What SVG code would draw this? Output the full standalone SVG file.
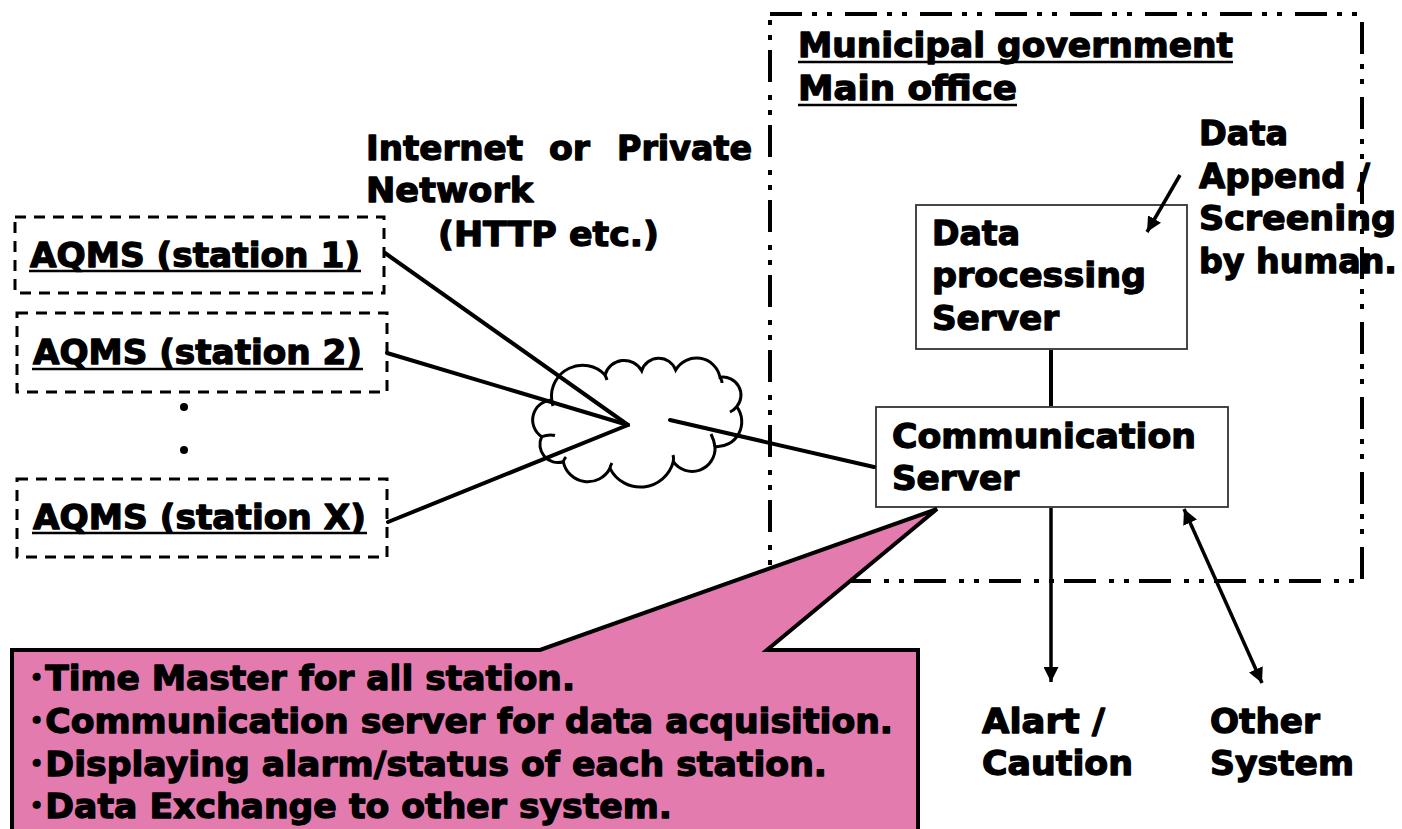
<svg xmlns="http://www.w3.org/2000/svg" width="1402" height="829" viewBox="0 0 1402 829">
<defs>
<style>
.t{font-family:"DejaVu Sans","Liberation Sans","Noto Sans CJK JP",sans-serif;font-weight:bold;font-size:34px;fill:#000;stroke:#000;stroke-width:1.3px;stroke-linejoin:round}
.ul{stroke:#000;stroke-width:2.5}
.st{fill:none;stroke:#000;stroke-width:3;stroke-dasharray:11 8}
.ln{stroke:#000;stroke-width:4;fill:none;stroke-linecap:round}
.ar{stroke:#000;stroke-width:3.5;fill:none}
.box{fill:#fff;stroke:#333;stroke-width:1.8}
</style>
<marker id="ah" markerUnits="userSpaceOnUse" markerWidth="15" markerHeight="15" viewBox="0 0 15 15" refX="15" refY="7.5" orient="auto-start-reverse">
<path d="M0,0 L15,7.5 L0,15 z" fill="#000"/>
</marker>
</defs>
<rect width="1402" height="829" fill="#fff"/>

<g id="main-office">
<rect x="770" y="14" width="592" height="567" fill="none" stroke="#000" stroke-width="4" stroke-dasharray="32 10 5 10 5 13"/>
<text class="t" x="798" y="57" textLength="435" lengthAdjust="spacingAndGlyphs">Municipal government</text>
<line class="ul" x1="798" y1="62" x2="1233" y2="62"/>
<text class="t" x="798" y="100" textLength="219" lengthAdjust="spacingAndGlyphs">Main office</text>
<line class="ul" x1="798" y1="105" x2="1017" y2="105"/>
</g>

<g id="station-1">
<rect class="st" x="15" y="217" width="369" height="76"/>
<text class="t" x="30" y="267" textLength="330" lengthAdjust="spacingAndGlyphs">AQMS (station 1)</text>
<line class="ul" x1="29" y1="271" x2="361" y2="271"/>
</g>
<g id="station-2">
<rect class="st" x="17" y="313" width="370" height="79"/>
<text class="t" x="33" y="364" textLength="329" lengthAdjust="spacingAndGlyphs">AQMS (station 2)</text>
<line class="ul" x1="32" y1="369" x2="363" y2="369"/>
</g>
<g id="station-dots">
<circle cx="184" cy="407" r="4" fill="#000"/>
<circle cx="184" cy="450" r="4" fill="#000"/>
</g>
<g id="station-x">
<rect class="st" x="17" y="479" width="370" height="78"/>
<text class="t" x="33" y="529" textLength="333" lengthAdjust="spacingAndGlyphs">AQMS (station X)</text>
<line class="ul" x1="32" y1="533" x2="367" y2="533"/>
</g>

<g id="network">
<path d="M551.7 400 A31 31 0 0 1 605 375 A20 20 0 0 1 641.7 370.7 A18 18 0 0 1 675.7 370 A24 24 0 0 1 720 377.3 A18 18 0 0 1 736.7 406.7 A25 25 0 0 1 715 446.7 A23 23 0 0 1 673.3 461.7 A34 34 0 0 1 610 468.3 A25 25 0 0 1 563.3 461.7 A18 18 0 0 1 541.7 436.7 A20 20 0 0 1 551.7 400 Z" fill="#fff" stroke="#000" stroke-width="3"/>
<path d="M541.7 436.7 Q549 434 555 435.5 M736.7 406.7 Q734 410 730 412 M715 446.7 Q714 440 711 434 M673.3 461.7 Q674 458 673 455 M610 468.3 Q610 466 612 463 M563.3 461.7 Q564 459 566 457 M551.7 400 Q552 403 553 406 M605 375 Q606 377 607 380 M720 377.3 Q722 380 722 383" fill="none" stroke="#000" stroke-width="3"/>
<text class="t" y="160"><tspan x="366" textLength="157" lengthAdjust="spacingAndGlyphs">Internet</tspan><tspan x="549" textLength="41" lengthAdjust="spacingAndGlyphs">or</tspan><tspan x="617" textLength="135" lengthAdjust="spacingAndGlyphs">Private</tspan></text>
<text class="t" x="366" y="202" textLength="167" lengthAdjust="spacingAndGlyphs">Network</text>
<text class="t" x="438" y="246" textLength="221" lengthAdjust="spacingAndGlyphs">(HTTP etc.)</text>
</g>

<g id="data-processing-server">
<rect class="box" x="916" y="205" width="271" height="144"/>
<text class="t" x="932" y="245" textLength="88" lengthAdjust="spacingAndGlyphs">Data</text>
<text class="t" x="932" y="287" textLength="214" lengthAdjust="spacingAndGlyphs">processing</text>
<text class="t" x="932" y="330" textLength="127" lengthAdjust="spacingAndGlyphs">Server</text>
</g>

<g id="communication-server">
<rect class="box" x="876" y="407" width="352" height="100"/>
<text class="t" x="892" y="448" textLength="304" lengthAdjust="spacingAndGlyphs">Communication</text>
<text class="t" x="892" y="490" textLength="127" lengthAdjust="spacingAndGlyphs">Server</text>
</g>

<g id="connectors">
<line class="ln" x1="385" y1="253" x2="628" y2="425"/>
<line class="ln" x1="387" y1="353" x2="628" y2="425"/>
<line class="ln" x1="388" y1="522" x2="628" y2="425"/>
<line class="ln" x1="670" y1="420" x2="874" y2="467"/>
<line x1="1051" y1="350" x2="1051" y2="406" stroke="#000" stroke-width="4"/>
<line class="ar" x1="1051" y1="508" x2="1051" y2="682" marker-end="url(#ah)"/>
<line class="ar" x1="1184" y1="509" x2="1262" y2="683" marker-start="url(#ah)" marker-end="url(#ah)"/>
<line class="ar" x1="1180" y1="175" x2="1147" y2="232" marker-end="url(#ah)"/>
</g>

<g id="human-note">
<text class="t" x="1199" y="145" textLength="89" lengthAdjust="spacingAndGlyphs">Data</text>
<text class="t" x="1199" y="188" textLength="171" lengthAdjust="spacingAndGlyphs">Append /</text>
<text class="t" x="1199" y="230" textLength="197" lengthAdjust="spacingAndGlyphs">Screening</text>
<text class="t" x="1199" y="273" textLength="198" lengthAdjust="spacingAndGlyphs">by human.</text>
</g>

<g id="alert">
<text class="t" x="982" y="733" textLength="123" lengthAdjust="spacingAndGlyphs">Alart /</text>
<text class="t" x="982" y="775" textLength="151" lengthAdjust="spacingAndGlyphs">Caution</text>
</g>
<g id="other-system">
<text class="t" x="1210" y="733" textLength="110" lengthAdjust="spacingAndGlyphs">Other</text>
<text class="t" x="1210" y="775" textLength="144" lengthAdjust="spacingAndGlyphs">System</text>
</g>

<g id="callout">
<path d="M12 650 L540 650 L937 509 L767 650 L918 650 L918 845 L12 845 Z" fill="#E37BAF" stroke="#000" stroke-width="4" stroke-linejoin="miter"/>
<text class="t" x="28" y="690" textLength="547" lengthAdjust="spacingAndGlyphs">･Time Master for all station.</text>
<text class="t" x="28" y="733" textLength="865" lengthAdjust="spacingAndGlyphs">･Communication server for data acquisition.</text>
<text class="t" x="28" y="776" textLength="799" lengthAdjust="spacingAndGlyphs">･Displaying alarm/status of each station.</text>
<text class="t" x="28" y="818" textLength="644" lengthAdjust="spacingAndGlyphs">･Data Exchange to other system.</text>
</g>
</svg>
